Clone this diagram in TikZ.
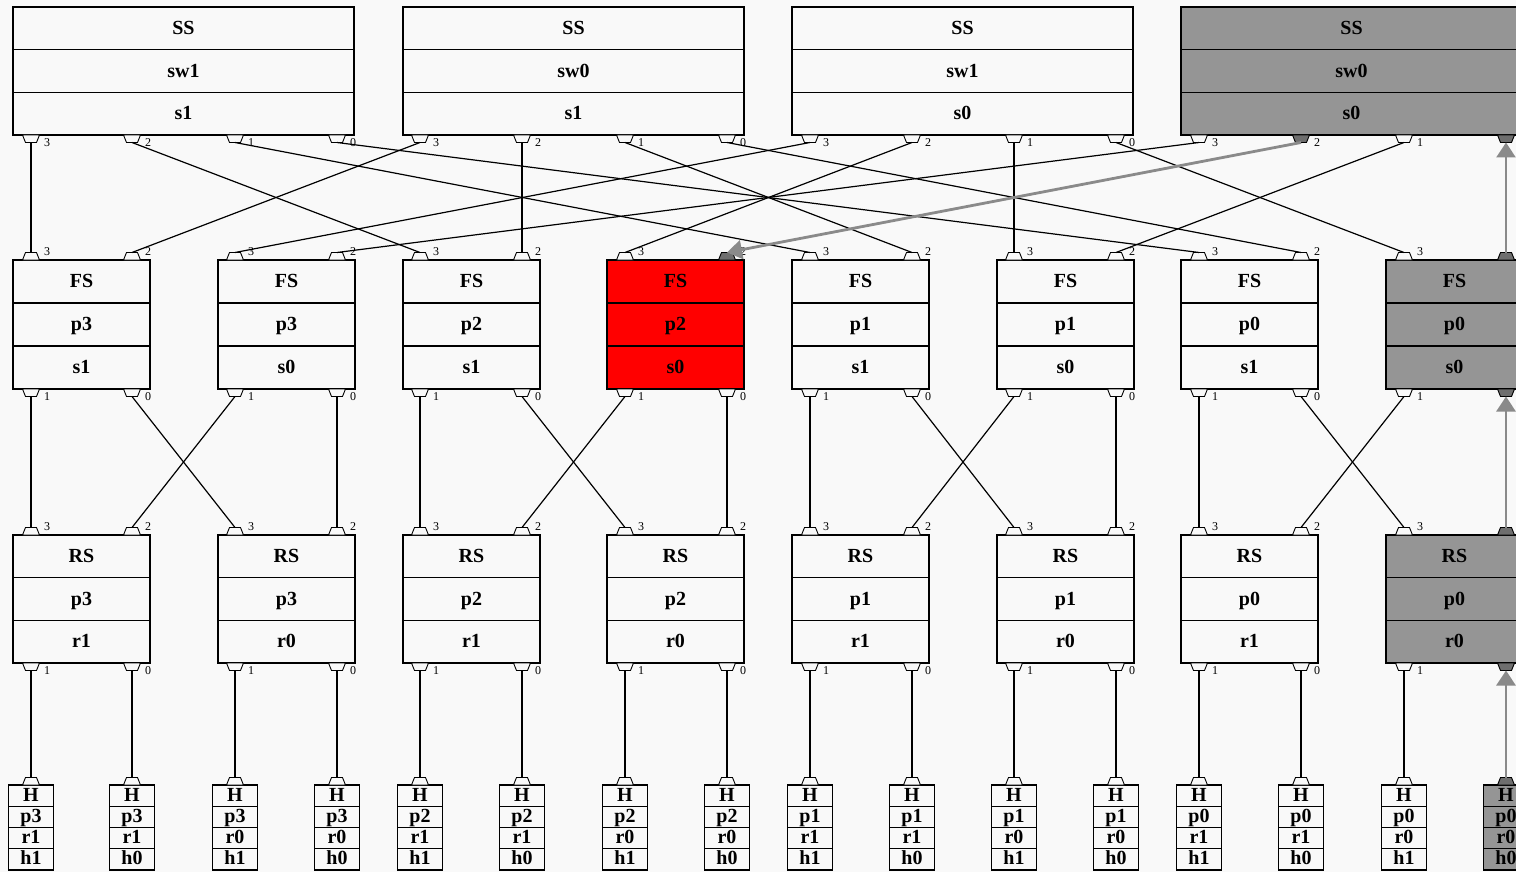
\documentclass[tikz,border=0pt]{standalone}
\usepackage{fontspec}
\setmainfont{Liberation Serif}
\usetikzlibrary{arrows.meta}
\definecolor{bg}{HTML}{F9F9F9}
\definecolor{boxgray}{HTML}{959595}
\definecolor{portgray}{HTML}{6E6E6E}
\definecolor{edgegray}{HTML}{8A8A8A}
\tikzset{
 recframe/.style={draw=black, line width=1.1pt, inner sep=0pt, outer sep=0pt, rectangle},
 recline/.style={draw=black, line width=1.1pt},
 rectext/.style={font=\fontsize{20}{20}\selectfont\bfseries, inner sep=0pt, anchor=base},
 portshape/.style={draw=black, line width=0.9pt},
 portlabel/.style={font=\fontsize{12}{12}\selectfont, inner sep=0pt},
 link/.style={draw=black, line width=1.2pt},
 hotlink/.style={draw=edgegray, line width=2.8pt, -{Triangle[length=15pt,width=19pt,fill=edgegray]}},
}
\def\nolab{-}
% bottom port: name, x, y (box bottom), fill, label
\newcommand{\BPort}[5]{%
 \filldraw[portshape, fill=#4] (#2-8.5,#3) -- (#2+8.5,#3) -- (#2+5.5,#3+7.5) -- (#2-5.5,#3+7.5) -- cycle;
 \coordinate (#1) at (#2,#3+7.5);
 \edef\portlab{#5}%
 \ifx\portlab\nolab\else\node[portlabel] (#1-lab) at (#2+16,#3+8) {#5};\fi}
% top port: name, x, y (box top), fill, label
\newcommand{\TPort}[5]{%
 \filldraw[portshape, fill=#4] (#2-8.5,#3) -- (#2+8.5,#3) -- (#2+5.5,#3-7.5) -- (#2-5.5,#3-7.5) -- cycle;
 \coordinate (#1) at (#2,#3-7.5);
 \edef\portlab{#5}%
 \ifx\portlab\nolab\else\node[portlabel] (#1-lab) at (#2+16,#3-8) {#5};\fi}
% top port without label
\newcommand{\TPortNL}[4]{%
 \filldraw[portshape, fill=#4] (#2-8.5,#3) -- (#2+8.5,#3) -- (#2+5.5,#3-7.5) -- (#2-5.5,#3-7.5) -- cycle;
 \coordinate (#1) at (#2,#3-7.5);}
% record: name, xleft, ytop, width, row height, fill, t1, t2, t3
\newcommand{\recnode}[9]{%
 \node[recframe, fill=#6, minimum width=#4, minimum height=3*#5, anchor=north west] (#1) at (#2,#3) {};
 \draw[recline] (#2,#3+#5) -- (#2+#4,#3+#5);
 \draw[recline] (#2,#3+2*#5) -- (#2+#4,#3+2*#5);
 \node[rectext] (#1-a) at (#2+#4/2,#3+0.5*#5+6) {#7};
 \node[rectext] (#1-b) at (#2+#4/2,#3+1.5*#5+6) {#8};
 \node[rectext] (#1-c) at (#2+#4/2,#3+2.5*#5+6) {#9};}
% host: name, xc, fill, portfill, p, r, h
\newcommand{\hostnode}[7]{%
 \node[recframe, fill=#3, minimum width=45, minimum height=85, anchor=north] (#1) at (#2,785) {};
 \draw[recline] (#2-22.5,806.25) -- (#2+22.5,806.25);
 \draw[recline] (#2-22.5,827.5) -- (#2+22.5,827.5);
 \draw[recline] (#2-22.5,848.75) -- (#2+22.5,848.75);
 \node[rectext] (#1-a) at (#2,795.6+5.5) {H};
 \node[rectext] (#1-b) at (#2,816.9+5.5) {#5};
 \node[rectext] (#1-c) at (#2,838.1+5.5) {#6};
 \node[rectext] (#1-d) at (#2,859.4+5.5) {#7};
 \TPortNL{#1-p}{#2}{785}{#4}}
\begin{document}
\begin{tikzpicture}[x=1pt,y=-1pt]
\clip (0,0) rectangle (1516,872);
\fill[bg] (0,0) rectangle (1516,872);
% spine switches
\foreach \n/\xl/\sw/\s/\bf/\pa/\pb/\pc/\pd/\fb/\fd/\ld in {
 1/13/sw1/s1/bg/31/132/235/337/bg/bg/0,
 2/403/sw0/s1/bg/420/522/625/727/bg/bg/0,
 3/792/sw1/s0/bg/810/912/1014/1116/bg/bg/0,
 4/1181/sw0/s0/boxgray/1199/1301/1404/1506/portgray/portgray/-}{
 \recnode{ss\n}{\xl}{7}{341}{42.67}{\bf}{SS}{\sw}{\s}
 \BPort{ss\n-3}{\pa}{135}{bg}{3}
 \BPort{ss\n-2}{\pb}{135}{\fb}{2}
 \BPort{ss\n-1}{\pc}{135}{bg}{1}
 \BPort{ss\n-0}{\pd}{135}{\fd}{\ld}
}
% fabric switches
\foreach \n/\xl/\pp/\s/\bf/\pa/\pb/\tf/\of/\lt/\lo in {
 1/13/p3/s1/bg/31/132/bg/bg/2/0,
 2/218/p3/s0/bg/235/337/bg/bg/2/0,
 3/403/p2/s1/bg/420/522/bg/bg/2/0,
 4/607/p2/s0/red/625/727/portgray/bg/2/0,
 5/792/p1/s1/bg/810/912/bg/bg/2/0,
 6/997/p1/s0/bg/1014/1116/bg/bg/2/0,
 7/1181/p0/s1/bg/1199/1301/bg/bg/2/0,
 8/1386/p0/s0/boxgray/1404/1506/portgray/portgray/-/-}{
 \recnode{fs\n}{\xl}{260}{137}{43}{\bf}{FS}{\pp}{\s}
 \TPort{fs\n-3}{\pa}{260}{bg}{3}
 \TPort{fs\n-2}{\pb}{260}{\tf}{\lt}
 \BPort{fs\n-1}{\pa}{389}{bg}{1}
 \BPort{fs\n-0}{\pb}{389}{\of}{\lo}
}
% rack switches
\foreach \n/\xl/\pp/\r/\bf/\pa/\pb/\tf/\of/\lt/\lo in {
 1/13/p3/r1/bg/31/132/bg/bg/2/0,
 2/218/p3/r0/bg/235/337/bg/bg/2/0,
 3/403/p2/r1/bg/420/522/bg/bg/2/0,
 4/607/p2/r0/bg/625/727/bg/bg/2/0,
 5/792/p1/r1/bg/810/912/bg/bg/2/0,
 6/997/p1/r0/bg/1014/1116/bg/bg/2/0,
 7/1181/p0/r1/bg/1199/1301/bg/bg/2/0,
 8/1386/p0/r0/boxgray/1404/1506/portgray/portgray/-/-}{
 \recnode{rs\n}{\xl}{535}{137}{42.67}{\bf}{RS}{\pp}{\r}
 \TPort{rs\n-3}{\pa}{535}{bg}{3}
 \TPort{rs\n-2}{\pb}{535}{\tf}{\lt}
 \BPort{rs\n-1}{\pa}{663}{bg}{1}
 \BPort{rs\n-0}{\pb}{663}{\of}{\lo}
}
% hosts
\foreach \n/\x/\p/\r/\h/\bf/\pf in {
 1/31/p3/r1/h1/bg/bg, 2/132/p3/r1/h0/bg/bg, 3/235/p3/r0/h1/bg/bg, 4/337/p3/r0/h0/bg/bg,
 5/420/p2/r1/h1/bg/bg, 6/522/p2/r1/h0/bg/bg, 7/625/p2/r0/h1/bg/bg, 8/727/p2/r0/h0/bg/bg,
 9/810/p1/r1/h1/bg/bg, 10/912/p1/r1/h0/bg/bg, 11/1014/p1/r0/h1/bg/bg, 12/1116/p1/r0/h0/bg/bg,
 13/1199/p0/r1/h1/bg/bg, 14/1301/p0/r1/h0/bg/bg, 15/1404/p0/r0/h1/bg/bg, 16/1506/p0/r0/h0/boxgray/portgray}{
 \hostnode{h\n}{\x}{\bf}{\pf}{\p}{\r}{\h}
}
% spine -> fabric links
\draw[link] (ss1-3) -- (fs1-3);
\draw[link] (ss1-2) -- (fs3-3);
\draw[link] (ss1-1) -- (fs5-3);
\draw[link] (ss1-0) -- (fs7-3);
\draw[link] (ss2-3) -- (fs1-2);
\draw[link] (ss2-2) -- (fs3-2);
\draw[link] (ss2-1) -- (fs5-2);
\draw[link] (ss2-0) -- (fs7-2);
\draw[link] (ss3-3) -- (fs2-3);
\draw[link] (ss3-2) -- (fs4-3);
\draw[link] (ss3-1) -- (fs6-3);
\draw[link] (ss3-0) -- (fs8-3);
\draw[link] (ss4-3) -- (fs2-2);
\draw[link] (ss4-1) -- (fs6-2);
% fabric -> rack links
\foreach \a/\b in {1/2,3/4,5/6,7/8}{
 \draw[link] (fs\a-1) -- (rs\a-3);
 \draw[link] (fs\a-0) -- (rs\b-3);
 \draw[link] (fs\b-1) -- (rs\a-2);
}
\draw[link] (fs2-0) -- (rs2-2);
\draw[link] (fs4-0) -- (rs4-2);
\draw[link] (fs6-0) -- (rs6-2);
% rack -> host links
\foreach \k/\a/\b in {1/1/2,2/3/4,3/5/6,4/7/8,5/9/10,6/11/12,7/13/14}{
 \draw[link] (rs\k-1) -- (h\a-p);
 \draw[link] (rs\k-0) -- (h\b-p);
}
\draw[link] (rs8-1) -- (h15-p);
% highlighted path
\draw[hotlink] (h16-p) -- (rs8-0);
\draw[hotlink] (rs8-2) -- (fs8-0);
\draw[hotlink] (fs8-2) -- (ss4-0);
\draw[hotlink] (ss4-2) -- (fs4-2);
\end{tikzpicture}
\end{document}
